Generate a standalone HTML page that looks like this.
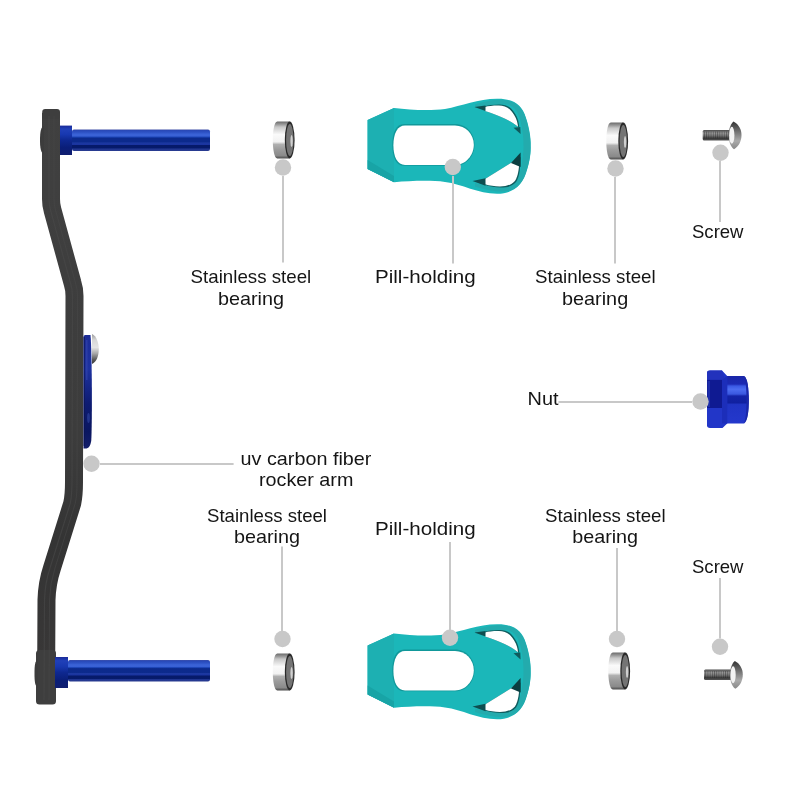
<!DOCTYPE html>
<html><head><meta charset="utf-8">
<style>
html,body{margin:0;padding:0;background:#fff;width:800px;height:800px;overflow:hidden}
svg{display:block}
text{font-family:"Liberation Sans",sans-serif;font-size:18.5px;fill:#151515}
svg{will-change:transform}
</style></head><body>
<svg width="800" height="800" viewBox="0 0 800 800">
<defs>
  <linearGradient id="armg" gradientUnits="userSpaceOnUse" x1="0" y1="100" x2="0" y2="710">
    <stop offset="0" stop-color="#404040"/>
    <stop offset="0.55" stop-color="#3c3c3c"/>
    <stop offset="0.72" stop-color="#343434"/>
    <stop offset="1" stop-color="#3a3838"/>
  </linearGradient>
  <linearGradient id="pin" x1="0" y1="0" x2="0" y2="1">
    <stop offset="0" stop-color="#4050a8"/>
    <stop offset="0.05" stop-color="#2848b8"/>
    <stop offset="0.15" stop-color="#2f55c8"/>
    <stop offset="0.22" stop-color="#3a62d6"/>
    <stop offset="0.3" stop-color="#3a62d6"/>
    <stop offset="0.36" stop-color="#1840b0"/>
    <stop offset="0.4" stop-color="#0c2a8c"/>
    <stop offset="0.58" stop-color="#0c2a8c"/>
    <stop offset="0.62" stop-color="#1c38a0"/>
    <stop offset="0.7" stop-color="#1a34a0"/>
    <stop offset="0.74" stop-color="#061a6a"/>
    <stop offset="0.86" stop-color="#061a6a"/>
    <stop offset="0.9" stop-color="#1e3490"/>
    <stop offset="1" stop-color="#2a3c90"/>
  </linearGradient>
  <linearGradient id="collar" x1="0" y1="0" x2="0" y2="1">
    <stop offset="0" stop-color="#1a2a98"/>
    <stop offset="0.12" stop-color="#2040b8"/>
    <stop offset="0.3" stop-color="#1838b0"/>
    <stop offset="0.5" stop-color="#0e2890"/>
    <stop offset="0.75" stop-color="#0a1e78"/>
    <stop offset="1" stop-color="#101e70"/>
  </linearGradient>
  <linearGradient id="brg" x1="0" y1="0" x2="0" y2="1">
    <stop offset="0" stop-color="#6a6a6a"/>
    <stop offset="0.08" stop-color="#9a9a9a"/>
    <stop offset="0.15" stop-color="#c8c8c8"/>
    <stop offset="0.28" stop-color="#e8e8e8"/>
    <stop offset="0.35" stop-color="#fafafa"/>
    <stop offset="0.55" stop-color="#f2f2f2"/>
    <stop offset="0.62" stop-color="#b0b0b0"/>
    <stop offset="0.75" stop-color="#9c9c9c"/>
    <stop offset="0.92" stop-color="#8a8a8a"/>
    <stop offset="1" stop-color="#4a4a4a"/>
  </linearGradient>
  <pattern id="thr" x="0" y="0" width="2.2" height="10" patternUnits="userSpaceOnUse"><rect x="0" y="0" width="0.9" height="10" fill="#222"/></pattern>
  <linearGradient id="shaft" x1="0" y1="0" x2="0" y2="1">
    <stop offset="0" stop-color="#4a4a4a"/>
    <stop offset="0.3" stop-color="#9a9a9a"/>
    <stop offset="0.55" stop-color="#777"/>
    <stop offset="0.8" stop-color="#3a3a3a"/>
    <stop offset="1" stop-color="#555"/>
  </linearGradient>
  <linearGradient id="head" x1="0" y1="0" x2="0" y2="1">
    <stop offset="0" stop-color="#333"/>
    <stop offset="0.4" stop-color="#777"/>
    <stop offset="0.7" stop-color="#aaa"/>
    <stop offset="1" stop-color="#888"/>
  </linearGradient>
  <linearGradient id="nutcap" x1="0" y1="0" x2="0" y2="1">
    <stop offset="0" stop-color="#1a26a8"/>
    <stop offset="0.17" stop-color="#1c2ab4"/>
    <stop offset="0.21" stop-color="#3a58e4"/>
    <stop offset="0.28" stop-color="#4c6cf0"/>
    <stop offset="0.38" stop-color="#3a58e0"/>
    <stop offset="0.42" stop-color="#1424a8"/>
    <stop offset="0.56" stop-color="#1020a0"/>
    <stop offset="0.6" stop-color="#2034c4"/>
    <stop offset="1" stop-color="#2438cc"/>
  </linearGradient>
  <linearGradient id="plate" x1="0" y1="0" x2="0" y2="1">
    <stop offset="0" stop-color="#1c2c96"/>
    <stop offset="0.3" stop-color="#1e32a0"/>
    <stop offset="0.6" stop-color="#0e1c72"/>
    <stop offset="0.85" stop-color="#0a1660"/>
    <stop offset="1" stop-color="#141e6a"/>
  </linearGradient>
  <linearGradient id="silv" x1="0" y1="0" x2="0" y2="1">
    <stop offset="0" stop-color="#9a9a9a"/>
    <stop offset="0.2" stop-color="#d8d8d8"/>
    <stop offset="0.45" stop-color="#e4e4e4"/>
    <stop offset="0.65" stop-color="#a8a8a8"/>
    <stop offset="0.85" stop-color="#5a5a5a"/>
    <stop offset="1" stop-color="#3a3a3a"/>
  </linearGradient>

  <g id="pill">
    <path d="M367.6,120 L394,108 C410,110 430,111 445,109 C462,106 478,99 497,98.8 C512,98.5 522,104 526,118 C530,130 531,140 530.6,145.5 C531,152 530,162 526,172 C522,186 512,193.8 497,193.8 C478,193.8 462,184 445,182 C430,180 410,181 394.4,182.2 L367.6,169 Z" fill="#1bb7b9"/>
    <path d="M475,104.5 C490,100 500,99 508,100.5 C518,102.5 524,110 527,122 C530,134 530.6,140 530.6,145.5 C530.6,152 530,160 527,170 C524,181 518,189 508,191 C500,192.5 490,191 475,186.5 L475,183 C490,187 500,188 507,187 C515,185 519,178 521,168 C523,158 523.5,152 523.5,145.5 C523.5,139 523,133 521,123 C519,113 515,106 507,104.5 C500,103.5 490,104.5 475,108 Z" fill="#23abad"/>
    <path d="M367.6,120 L394,108 L394,182.2 L367.6,169 Z" fill="#1db0b2"/>
    <path d="M367.6,160 L394,176 L394,182.2 L367.6,169 Z" fill="#18a4a6"/>
    <!-- hole -->
    <path d="M404,124 L455,124 C466.5,124 474.5,133.5 474.5,144.5 C474.5,156 466.5,165.8 455,165.8 L404,165.8 C396,165.8 392.2,157 392.2,145 C392.2,133 396,124 404,124 Z" fill="#11989a"/>
    <path d="M405,125.6 L455,125.6 C465.5,125.6 473.8,134 473.8,144.8 C473.8,155.5 465.5,165 455,165 L405,165 C397.5,165 393.4,157 393.4,145.3 C393.4,133.5 397.5,125.6 405,125.6 Z" fill="#fff"/>
    <!-- upper cutout -->
    <clipPath id="cu"><path d="M485,106.2 C488,105 494,104.3 500,104.4 C504,104.5 508,105.5 511,108.5 C514,111.5 517,116 518,120 C518.8,123 519.2,125 519.2,127.5 C513,122.5 507,119.5 500,116.5 C494,114 489,112 485,111 Z"/></clipPath>
    <clipPath id="cl"><path d="M485,179 L520.5,157 C520.5,168 519.5,177 516,182 C512,186.5 507,187.5 501,187.5 C495,187.5 490,186.5 485,185 Z"/></clipPath>
    <path d="M485,106.2 C488,105 494,104.3 500,104.4 C504,104.5 508,105.5 511,108.5 C514,111.5 517,116 518,120 C518.8,123 519.2,125 519.2,127.5 C513,122.5 507,119.5 500,116.5 C494,114 489,112 485,111 Z" fill="#115c5e"/>
    <g clip-path="url(#cu)"><path transform="translate(-1.1,1.1)" d="M485,106.2 C488,105 494,104.3 500,104.4 C504,104.5 508,105.5 511,108.5 C514,111.5 517,116 518,120 C518.8,123 519.2,125 519.2,127.5 C513,122.5 507,119.5 500,116.5 C494,114 489,112 485,111 Z" fill="#fff"/></g>
    <path d="M474.5,107 L485.5,105.6 L485.5,111 Z" fill="#0e4e50"/>
    <path d="M513.5,127.8 L520.3,127 L520.6,134 Z" fill="#0f5a5c"/>
    <!-- lower cutout -->
    <path d="M485,179 L520.5,157 C520.5,168 519.5,177 516,182 C512,186.5 507,187.5 501,187.5 C495,187.5 490,186.5 485,185 Z" fill="#115c5e"/>
    <g clip-path="url(#cl)"><path transform="translate(-1.1,-1.1)" d="M485,179 L520.5,157 C520.5,168 519.5,177 516,182 C512,186.5 507,187.5 501,187.5 C495,187.5 490,186.5 485,185 Z" fill="#fff"/></g>
    <path d="M472.5,181 L485.5,178.3 L485.5,185.8 Z" fill="#0e4e50"/>
    <path d="M511,163 L520.6,152.5 L520.6,167 Z" fill="#0b3e40"/>
  </g>

  <g id="bearing">
    <path d="M277.3,0 L289.7,0 L289.7,37 L277.3,37 C271.3,37 271.3,0 277.3,0 Z" fill="url(#brg)"/>
    <ellipse cx="289.7" cy="18.5" rx="4.9" ry="18.5" fill="#2a2a2a"/>
    <ellipse cx="289.8" cy="18.5" rx="3.7" ry="16" fill="#747474"/>
    <ellipse cx="291.6" cy="19.5" rx="1.2" ry="6" fill="#d0d0d0"/>
  </g>

  <g id="screw">
    <rect x="702.7" y="0" width="27.5" height="10.4" rx="1.5" fill="url(#shaft)"/>
    <rect x="703.5" y="1.5" width="26" height="7" fill="url(#thr)" opacity="0.45"/>
    <path d="M733.5,-8.4 C739,-5.5 741.5,0 741.5,5 C741.5,11 739,16 734,19.2 C729.5,16 728.8,10 728.8,5 C728.8,0 730,-5 733.5,-8.4 Z" fill="url(#head)"/>
    <ellipse cx="731.8" cy="5.2" rx="2.6" ry="8.5" fill="#f2f2f2"/>
  </g>
</defs>

<!-- carbon arm -->
<path d="M51,113 L51,199 Q51,205 52.5,210 L72.5,283 Q74.5,289 74.5,296 L74,482 C74,492 73.6,497 72.2,503.5 L52,568 Q47,583 46.5,600 L46,700" fill="none" stroke="url(#armg)" stroke-width="18"/>
<rect x="42.2" y="109" width="17.8" height="10" rx="3" fill="#3e3e3e"/>
<rect x="36" y="650" width="20" height="54.5" rx="3.5" fill="#3e3e3e"/>
<path d="M49,116 L49,199 Q49,205 50.5,210 L70.5,283 Q72.5,289 72.5,296 L72,482 C72,492 71.6,497 70.2,503.5 L50,568 Q45,583 44.5,600 L44,700" fill="none" stroke="#4a4a4a" stroke-width="1.2" opacity="0.6"/>
<path d="M54,116 L54,199 Q54,205 55.5,210 L75.5,283 Q77.5,289 77.5,296 L77,482 C77,492 76.6,497 75.2,503.5 L55,568 Q50,583 49.5,600 L49,700" fill="none" stroke="#474747" stroke-width="1" opacity="0.6"/>
<!-- top pin -->
<path d="M44,125.5 C41,127.5 40,131 40,140 C40,149 41,152.5 44,154.5 Z" fill="#3c3c3c"/>
<rect x="60" y="125.6" width="12" height="29.4" fill="url(#collar)"/>
<rect x="72" y="129.5" width="138" height="21.5" rx="2" fill="url(#pin)"/>

<!-- bottom pin -->
<path d="M38,659 C35,661 34.5,665 34.5,673.5 C34.5,682 35,686 38,688 Z" fill="#3c3c3c"/>
<rect x="55" y="657" width="13" height="31" fill="url(#collar)"/>
<rect x="68" y="660" width="142" height="21.5" rx="2" fill="url(#pin)"/>

<!-- blue plate -->
<path d="M83.5,337 C83.5,335.5 84.5,335 86,335 L90.5,335 C92,350 92.3,420 91.3,440 C90.8,446 88.5,448.5 85.5,448.5 L83.5,448.5 Z" fill="url(#plate)"/>
<ellipse cx="88.5" cy="418" rx="1.4" ry="5" fill="#3a52b0" opacity="0.5"/>
<path d="M83.5,337 L84.8,337 L84.8,446 L83.5,446 Z" fill="#0a1250" opacity="0.7"/>
<path d="M86,340 L87.6,340 L87.6,380 L86,380 Z" fill="#3a4cb0" opacity="0.5"/>
<path d="M92,334 C96.5,336 98.8,343 98.8,349 C98.8,356 96.5,362 92,364 Z" fill="url(#silv)"/>
<!-- pill holders -->
<use href="#pill"/>
<use href="#pill" transform="translate(0,525.5)"/>

<!-- bearings -->
<use href="#bearing" transform="translate(0,121.5)"/>
<use href="#bearing" transform="translate(333.5,122.5)"/>
<use href="#bearing" transform="translate(0,653.5)"/>
<use href="#bearing" transform="translate(335.5,652.5)"/>

<!-- screws -->
<use href="#screw" transform="translate(0,130)"/>
<use href="#screw" transform="translate(1.3,669.5)"/>

<!-- nut -->
<path d="M722,376 L744,376 C747.5,378 748.8,388 748.8,400 C748.8,412 747.5,421 744,423.6 L722,423.6 Z" fill="url(#nutcap)"/>
<path d="M744,376 C747.5,378 748.8,388 748.8,400 C748.8,412 747.5,421 744,423.6 C746,418 746.5,410 746.5,400 C746.5,390 746,382 744,376 Z" fill="#1a28a8"/>
<path d="M707,373 C707,371.3 708,370.5 710,370.5 L722,370.5 L727.2,376 L727.2,423.6 L722.5,428 L710,428 C708,428 707,427 707,425.5 Z" fill="#2236c8"/>
<path d="M707,373 C707,371.3 708,370.5 710,370.5 L722,370.5 L725,379.9 L707,379.9 Z" fill="#2232bc"/>
<path d="M707,379.9 L722,379.9 L722,408 L707,408 Z" fill="#0f1a92"/>
<path d="M707.5,381 L710,381 L710,407 L707.5,407 Z" fill="#2232b0" opacity="0.8"/>
<path d="M722,379.9 L727.2,376 L727.2,423.6 L722,423.6 Z" fill="#1c2eba"/>
<!-- dots and lines -->
<g fill="#c8c8c8">
  <circle cx="283" cy="167.5" r="8.2"/>
  <circle cx="452.8" cy="167" r="8.2"/>
  <circle cx="615.5" cy="168.5" r="8.2"/>
  <circle cx="720.5" cy="152.7" r="8.2"/>
  <circle cx="700.5" cy="401.5" r="8.2"/>
  <circle cx="91.5" cy="463.7" r="8.2"/>
  <circle cx="282.5" cy="639" r="8.2"/>
  <circle cx="450" cy="637.8" r="8.2"/>
  <circle cx="617" cy="639" r="8.2"/>
  <circle cx="720" cy="646.8" r="8.2"/>
</g>
<g stroke="#c8c8c8" stroke-width="2">
  <line x1="283" y1="176" x2="283" y2="262.5"/>
  <line x1="453" y1="176" x2="453" y2="263.6"/>
  <line x1="615" y1="177" x2="615" y2="263.4"/>
  <line x1="720" y1="161" x2="720" y2="222"/>
  <line x1="558.5" y1="402" x2="692" y2="402"/>
  <line x1="100" y1="464" x2="233.6" y2="464"/>
  <line x1="282" y1="546.4" x2="282" y2="631"/>
  <line x1="450" y1="542" x2="450" y2="630"/>
  <line x1="617" y1="548" x2="617" y2="631"/>
  <line x1="720" y1="578" x2="720" y2="638.5"/>
</g>

<!-- labels -->
<text x="190.6" y="283" textLength="120.7" lengthAdjust="spacingAndGlyphs">Stainless steel</text>
<text x="218" y="304.5" textLength="66" lengthAdjust="spacingAndGlyphs">bearing</text>
<text x="375" y="282.6" textLength="100.6" lengthAdjust="spacingAndGlyphs">Pill-holding</text>
<text x="535" y="282.8" textLength="120.6" lengthAdjust="spacingAndGlyphs">Stainless steel</text>
<text x="562" y="304.7" textLength="66.2" lengthAdjust="spacingAndGlyphs">bearing</text>
<text x="692" y="238" textLength="51.5" lengthAdjust="spacingAndGlyphs">Screw</text>
<text x="527.5" y="405.2" textLength="31" lengthAdjust="spacingAndGlyphs">Nut</text>
<text x="240.6" y="465" textLength="130.8" lengthAdjust="spacingAndGlyphs">uv carbon fiber</text>
<text x="259" y="486.4" textLength="94.4" lengthAdjust="spacingAndGlyphs">rocker arm</text>
<text x="207" y="521.9" textLength="120" lengthAdjust="spacingAndGlyphs">Stainless steel</text>
<text x="234" y="542.9" textLength="66" lengthAdjust="spacingAndGlyphs">bearing</text>
<text x="375" y="535" textLength="100.6" lengthAdjust="spacingAndGlyphs">Pill-holding</text>
<text x="545.1" y="521.9" textLength="120.5" lengthAdjust="spacingAndGlyphs">Stainless steel</text>
<text x="572.2" y="542.9" textLength="65.9" lengthAdjust="spacingAndGlyphs">bearing</text>
<text x="692" y="572.5" textLength="51.5" lengthAdjust="spacingAndGlyphs">Screw</text>
</svg>
</body></html>
